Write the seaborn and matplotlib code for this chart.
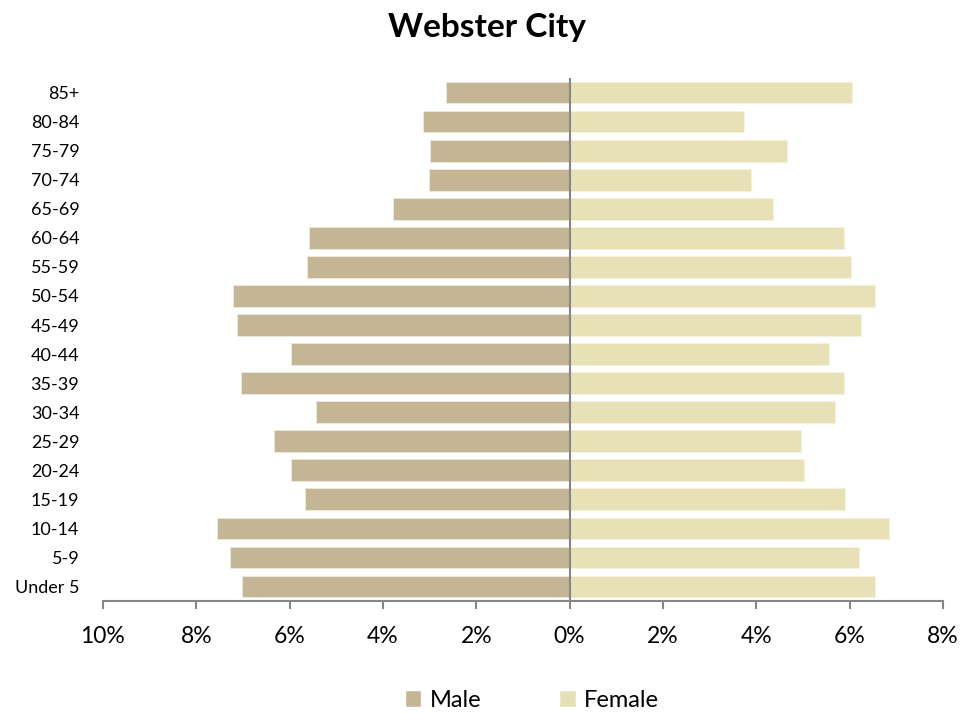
import pandas as pd
import matplotlib.pyplot as plt
import seaborn as sns
from matplotlib.patches import Patch

sns.set_style("white")
plt.rcParams['font.family'] = ['Lato', 'DejaVu Sans']
plt.rcParams['text.color'] = 'black'
plt.rcParams['xtick.labelcolor'] = 'black'
plt.rcParams['ytick.labelcolor'] = 'black'

# Datos (porcentaje de la poblacion por grupo de edad)
age_groups = ["85+", "80-84", "75-79", "70-74", "65-69", "60-64", "55-59",
              "50-54", "45-49", "40-44", "35-39", "30-34", "25-29", "20-24",
              "15-19", "10-14", "5-9", "Under 5"]
male_pct = [2.65, 3.14, 2.99, 3.01, 3.79, 5.59, 5.63, 7.21, 7.13, 5.96,
            7.04, 5.44, 6.33, 5.96, 5.68, 7.56, 7.28, 7.03]
female_pct = [6.06, 3.73, 4.65, 3.88, 4.35, 5.88, 6.03, 6.55, 6.25, 5.56,
              5.87, 5.69, 4.95, 5.02, 5.90, 6.85, 6.21, 6.55]
x_ticks = [-10, -8, -6, -4, -2, 0, 2, 4, 6, 8]

MALE_COLOR = "#C4B595"
FEMALE_COLOR = "#E8E1B7"
AXIS_GRAY = "#868686"

df = pd.DataFrame({"age": age_groups,
                   "male": [-v for v in male_pct],
                   "female": female_pct})

fig = plt.figure(figsize=(9.74, 7.13), dpi=100)
ax = fig.add_axes([0.1057, 0.157, 0.8624, 0.7336])

sns.barplot(data=df, y="age", x="male", order=age_groups, orient="h",
            color=MALE_COLOR, saturation=1, width=0.75,
            edgecolor="#EFEBDD", linewidth=0.6, ax=ax)
sns.barplot(data=df, y="age", x="female", order=age_groups, orient="h",
            color=FEMALE_COLOR, saturation=1, width=0.75,
            edgecolor="#F6F2DC", linewidth=0.6, ax=ax)

ax.set_xlim(-10, 8)
ax.set_ylim(len(age_groups) - 0.5, -0.5)
ax.axvline(0, color=AXIS_GRAY, linewidth=1.5, zorder=5)

ax.set_xticks(x_ticks)
ax.set_xticklabels([f"{abs(t)}%" for t in x_ticks])
ax.tick_params(axis="x", bottom=True, direction="out", length=6, width=1.5,
               color=AXIS_GRAY, pad=12, labelsize=16.5)
ax.tick_params(axis="y", length=0, pad=17, labelsize=13)
ax.set_xlabel("")
ax.set_ylabel("")

for side in ["top", "right", "left"]:
    ax.spines[side].set_visible(False)
ax.spines["bottom"].set_color(AXIS_GRAY)
ax.spines["bottom"].set_linewidth(1.5)

fig.suptitle("Webster City", x=0.5, y=0.962, va="center",
             fontsize=24, fontweight="bold", color="black")

handles = [Patch(facecolor=MALE_COLOR, label="Male"),
           Patch(facecolor=FEMALE_COLOR, label="Female")]
fig.legend(handles=handles, loc="center", bbox_to_anchor=(0.546, 0.018),
           ncol=2, frameon=False, fontsize=17, handlelength=0.7,
           handleheight=0.7, handletextpad=0.35, columnspacing=3.3)

plt.savefig("out.png", dpi=100)
plt.close()
